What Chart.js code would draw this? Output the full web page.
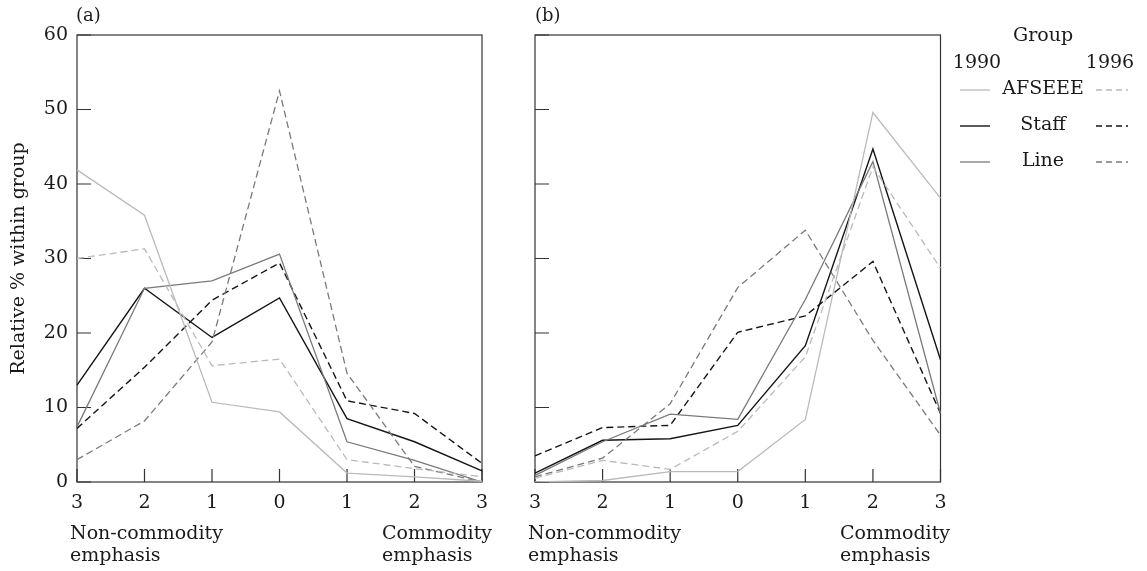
<!DOCTYPE html>
<html>
<head>
<meta charset="utf-8">
<script src="https://cdn.jsdelivr.net/npm/chart.js@4"></script>
<style>
  html,body{margin:0;padding:0;background:#fff;width:1147px;height:571px;overflow:hidden;font-family:'DejaVu Serif',serif;color:#1a1a1a;}
  .wrap{position:absolute;top:0;height:571px;}
  .lbl{position:absolute;font-size:19px;line-height:22px;color:#1a1a1a;white-space:nowrap;}
</style>
</head>
<body>
<div class="wrap" style="left:0;width:500px"><canvas id="ca"></canvas></div>
<div class="wrap" style="left:500px;width:647px"><canvas id="cb"></canvas></div>
<div class="lbl" style="left:76px;top:6px;font-size:18px;line-height:18px">(a)</div>
<div class="lbl" style="left:535px;top:6px;font-size:18px;line-height:18px">(b)</div>
<div class="lbl" style="left:70px;top:521px">Non-commodity<br>emphasis</div>
<div class="lbl" style="left:382px;top:521px">Commodity<br>emphasis</div>
<div class="lbl" style="left:528px;top:521px">Non-commodity<br>emphasis</div>
<div class="lbl" style="left:840px;top:521px">Commodity<br>emphasis</div>
<script>
const categories = ['3','2','1','0','1','2','3'];
const yTickValues = [0,10,20,30,40,50,60];
const groups = ['AFSEEE','Staff','Line'];
const years = ['1990','1996'];

// Panel (a)
const afseee1990A = [41.9, 35.8, 10.7, 9.4, 1.2, 0.7, 0.1];
const afseee1996A = [30.0, 31.3, 15.6, 16.5, 3.0, 1.8, 0.7];
const staff1990A  = [13.0, 26.0, 19.4, 24.7, 8.5, 5.4, 1.5];
const staff1996A  = [7.2, 15.4, 24.4, 29.4, 10.9, 9.2, 2.5];
const line1990A   = [7.4, 26.0, 27.0, 30.6, 5.4, 2.9, 0.0];
const line1996A   = [3.0, 8.2, 18.8, 52.5, 14.6, 2.1, 0.0];

// Panel (b)
const afseee1990B = [0.0, 0.2, 1.4, 1.4, 8.4, 49.6, 38.1];
const afseee1996B = [0.5, 2.9, 1.7, 6.8, 16.8, 42.3, 28.7];
const staff1990B  = [1.2, 5.6, 5.8, 7.6, 18.3, 44.7, 16.4];
const staff1996B  = [3.5, 7.3, 7.6, 20.1, 22.3, 29.6, 9.2];
const line1990B   = [0.9, 5.4, 9.1, 8.4, 24.5, 43.0, 9.2];
const line1996B   = [0.7, 3.2, 10.5, 26.1, 33.8, 19.0, 6.3];

const colors = {AFSEEE:'#bababa', Staff:'#151515', Line:'#7a7a7a'};
const DASH = [7,4];
const FONT = "'DejaVu Serif', serif";
const TEXT = '#1a1a1a';
Chart.defaults.font.family = FONT;
Chart.defaults.color = TEXT;

function ds(label, data, group, dashed){
  return {label, data, borderColor: colors[group], borderWidth: group==='Staff'?1.4:1.3,
    borderDash: dashed?DASH:[], pointRadius:0, tension:0, fill:false};
}

const framePlugin = {
  id:'frame',
  beforeDatasetsDraw(chart){
    const {ctx, chartArea:a, scales} = chart;
    ctx.save();
    ctx.strokeStyle = '#333'; ctx.lineWidth = 1.2;
    ctx.strokeRect(a.left, a.top, a.right-a.left, a.bottom-a.top);
    ctx.beginPath();
    yTickValues.forEach(v=>{
      const y = scales.y.getPixelForValue(v);
      ctx.moveTo(a.left, y); ctx.lineTo(a.left+14, y);
    });
    categories.forEach((c,i)=>{
      const x = scales.x.getPixelForValue(i);
      ctx.moveTo(x, a.bottom); ctx.lineTo(x, a.bottom-13);
    });
    ctx.stroke();
    ctx.restore();
  }
};

const legendPlugin = {
  id:'grpLegend',
  afterDraw(chart){
    if(!chart.options.plugins.grpLegend || !chart.options.plugins.grpLegend.show) return;
    const ctx = chart.ctx;
    const cx = 543; // centre of the legend column
    ctx.save();
    ctx.fillStyle = TEXT;
    ctx.font = "19px " + FONT;
    ctx.textAlign = 'center'; ctx.textBaseline = 'middle';
    ctx.fillText('Group', cx, 36);
    ctx.fillText(years[0], 477, 63);
    ctx.fillText(years[1], 610, 63);
    const ys = [89, 125, 161];
    groups.forEach((g,i)=>{
      ctx.fillStyle = TEXT;
      ctx.fillText(g, cx, ys[i]);
      ctx.strokeStyle = colors[g]; ctx.lineWidth = g==='Staff'?1.4:1.3;
      ctx.setLineDash([]);
      ctx.beginPath(); ctx.moveTo(460, ys[i]+1); ctx.lineTo(490, ys[i]+1); ctx.stroke();
      ctx.setLineDash([6,4]);
      ctx.beginPath(); ctx.moveTo(596, ys[i]+1); ctx.lineTo(628, ys[i]+1); ctx.stroke();
    });
    ctx.restore();
  }
};

function makeChart(id, datasets, opts){
  return new Chart(document.getElementById(id), {
    type:'line',
    data:{labels:categories, datasets},
    options:{
      responsive:true, maintainAspectRatio:false, animation:false,
      layout:{padding:{top:35, right:opts.padRight, bottom:0, left:0}},
      plugins:{legend:{display:false}, tooltip:{enabled:false}, grpLegend:{show:opts.legend}},
      scales:{
        x:{type:'category', offset:false,
           grid:{display:false}, border:{display:false},
           ticks:{font:{size:19}, color:TEXT, padding:2, maxRotation:0, autoSkip:false},
           afterFit(s){ s.height = 89; }},
        y:{min:0, max:60,
           grid:{display:false, drawTicks:false}, border:{display:false},
           ticks:{display:opts.yLabels, stepSize:10, font:{size:19}, color:TEXT, padding:9},
           title:{display:opts.yLabels, text:'Relative % within group', font:{size:19}, color:TEXT, padding:{top:8,bottom:0}},
           afterFit(s){ s.width = opts.yWidth; }}
      }
    },
    plugins:[framePlugin, legendPlugin]
  });
}

makeChart('ca', [
  ds('AFSEEE 1990', afseee1990A, 'AFSEEE', false),
  ds('AFSEEE 1996', afseee1996A, 'AFSEEE', true),
  ds('Line 1990', line1990A, 'Line', false),
  ds('Line 1996', line1996A, 'Line', true),
  ds('Staff 1990', staff1990A, 'Staff', false),
  ds('Staff 1996', staff1996A, 'Staff', true)
], {padRight:18, yWidth:77, yLabels:true, legend:false});

makeChart('cb', [
  ds('AFSEEE 1990', afseee1990B, 'AFSEEE', false),
  ds('AFSEEE 1996', afseee1996B, 'AFSEEE', true),
  ds('Line 1990', line1990B, 'Line', false),
  ds('Line 1996', line1996B, 'Line', true),
  ds('Staff 1990', staff1990B, 'Staff', false),
  ds('Staff 1996', staff1996B, 'Staff', true)
], {padRight:206.5, yWidth:35, yLabels:false, legend:true});
</script>
</body>
</html>
